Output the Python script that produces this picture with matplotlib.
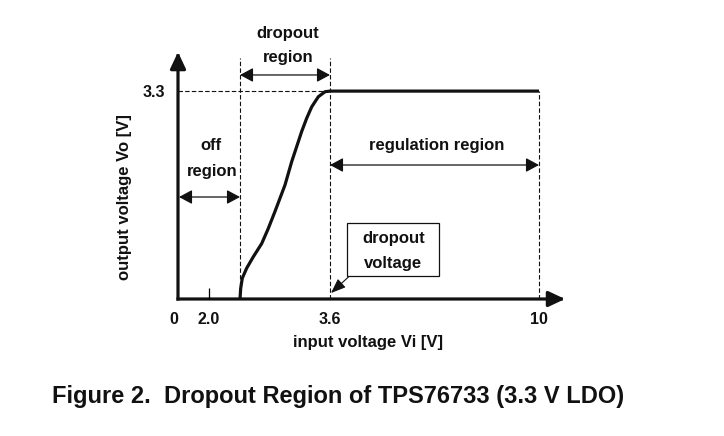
"""Dropout region sketch of an LDO (output vs input voltage)."""

import matplotlib

matplotlib.use("Agg")
import matplotlib.pyplot as plt
from matplotlib.patches import FancyArrowPatch, Rectangle

plt.rcParams["font.family"] = ["Liberation Sans", "DejaVu Sans"]
plt.rcParams["font.weight"] = "bold"

# schematic x positions (axis is not to scale) and their labels
tick_pos = [0.0, 3.1, 15.2, 36.1]
tick_labels = ["0", "2.0", "3.6", "10"]
off_end = 6.2        # end of off region
dropout_end = 15.2   # 3.6 V
reg_end = 36.1       # 10 V
v_out_nom = 3.3

# output voltage curve
vin_pos = [6.2, 6.27, 6.43, 6.87, 7.53, 8.37, 9.03, 9.7, 10.2, 10.7, 11.37, 11.87,
           12.37, 12.87, 13.37, 14.03, 14.7, 15.2, 36.1]
vout = [0.0, 0.17, 0.33, 0.49, 0.67, 0.88, 1.12, 1.39, 1.60, 1.81, 2.18, 2.42,
        2.66, 2.87, 3.05, 3.21, 3.29, 3.3, 3.3]

INK = "#111111"
FS = 12

fig = plt.figure(figsize=(7.24, 4.36), dpi=100)
ax = fig.add_axes([178 / 724, 137 / 436, 395 / 724, 252 / 436])
ax.set_xlim(0, 39.5)
ax.set_ylim(0, 4.0)
for s in ax.spines.values():
    s.set_visible(False)

# axes arrows
for end in [(38.7, 0), (0, 3.92)]:
    ax.add_patch(FancyArrowPatch((0, 0), end, arrowstyle="-|>,head_length=10,head_width=4.7",
                                 mutation_scale=1, lw=2.3, color=INK, clip_on=False,
                                 shrinkA=0, shrinkB=0, capstyle="projecting"))

# dashed guides
dash = dict(color=INK, lw=0.8, ls=(0, (4, 2)), clip_on=False)
ax.plot([0, dropout_end], [v_out_nom, v_out_nom], **dash)
ax.plot([off_end, off_end], [0, 3.82], **dash)
ax.plot([dropout_end, dropout_end], [0, 3.82], **dash)
ax.plot([reg_end, reg_end], [0, v_out_nom], **dash)

# transfer curve
ax.plot(vin_pos, vout, color=INK, lw=2.3, solid_capstyle="butt", solid_joinstyle="round", clip_on=False)

# region arrows
def span_arrow(x0, x1, y):
    ax.add_patch(FancyArrowPatch((x0, y), (x1, y), arrowstyle="<|-|>,head_length=8,head_width=4.3",
                                 mutation_scale=1, lw=0.9, color=INK, shrinkA=0, shrinkB=0,
                                 clip_on=False))

span_arrow(off_end, dropout_end, 3.556)
span_arrow(0.1, off_end, 1.619)
span_arrow(dropout_end, reg_end, 2.127)

txt = dict(ha="center", va="center", fontsize=FS, fontweight="bold", color=INK, clip_on=False)
ax.text(11.0, 4.22, "dropout", **txt)
ax.text(11.0, 3.84, "region", **txt)
ax.text(3.3, 2.444, "off", **txt)
ax.text(3.4, 2.03, "region", **txt)
ax.text(25.9, 2.43, "regulation region", **txt)

# dropout voltage callout
ax.add_patch(Rectangle((16.9, 0.365), 9.2, 0.841, fill=True, facecolor="white",
                       edgecolor=INK, lw=0.9, clip_on=False, zorder=3))
ax.text(21.6, 0.968, "dropout", zorder=4, **txt)
ax.text(21.5, 0.571, "voltage", zorder=4, **txt)
ax.add_patch(FancyArrowPatch((17.8, 0.46), (15.3, 0.095), arrowstyle="-|>,head_length=9,head_width=3.5",
                             mutation_scale=1, lw=0.8, color=INK, shrinkA=0, shrinkB=0, clip_on=False))

# ticks
ax.set_xticks(tick_pos, tick_labels)
ax.set_yticks([v_out_nom], ["3.3"])
ax.tick_params(axis="both", length=0, labelsize=11.5, labelcolor=INK)
ax.tick_params(axis="x", pad=9.5)
ax.tick_params(axis="y", pad=9)
t2 = ax.xaxis.get_major_ticks()[1]
t2.tick1line.set_markersize(8)
t2.tick1line.set_markeredgewidth(0.9)
t2.tick1line.set_marker(2)
t2.tick1line.set_color(INK)
ax.get_xticklabels()[0].set_ha("right")

ax.set_xlabel("input voltage Vi [V]", fontsize=FS, fontweight="bold", color=INK)
ax.xaxis.set_label_coords((368 - 178) / 395, -(342 - 299) / 252)
ax.xaxis.label.set_va("center")
ax.set_ylabel("output voltage Vo [V]", fontsize=FS, fontweight="bold", color=INK)
ax.yaxis.set_label_coords((125 - 178) / 395, (299 - 197) / 252)
ax.yaxis.label.set_va("center")

fig.text(338 / 724, (436 - 403) / 436, "Figure 2.  Dropout Region of TPS76733 (3.3 V LDO)",
         ha="center", va="baseline", fontsize=17, fontweight="bold", color=INK)

fig.savefig("out.png", dpi=100, facecolor="white")
